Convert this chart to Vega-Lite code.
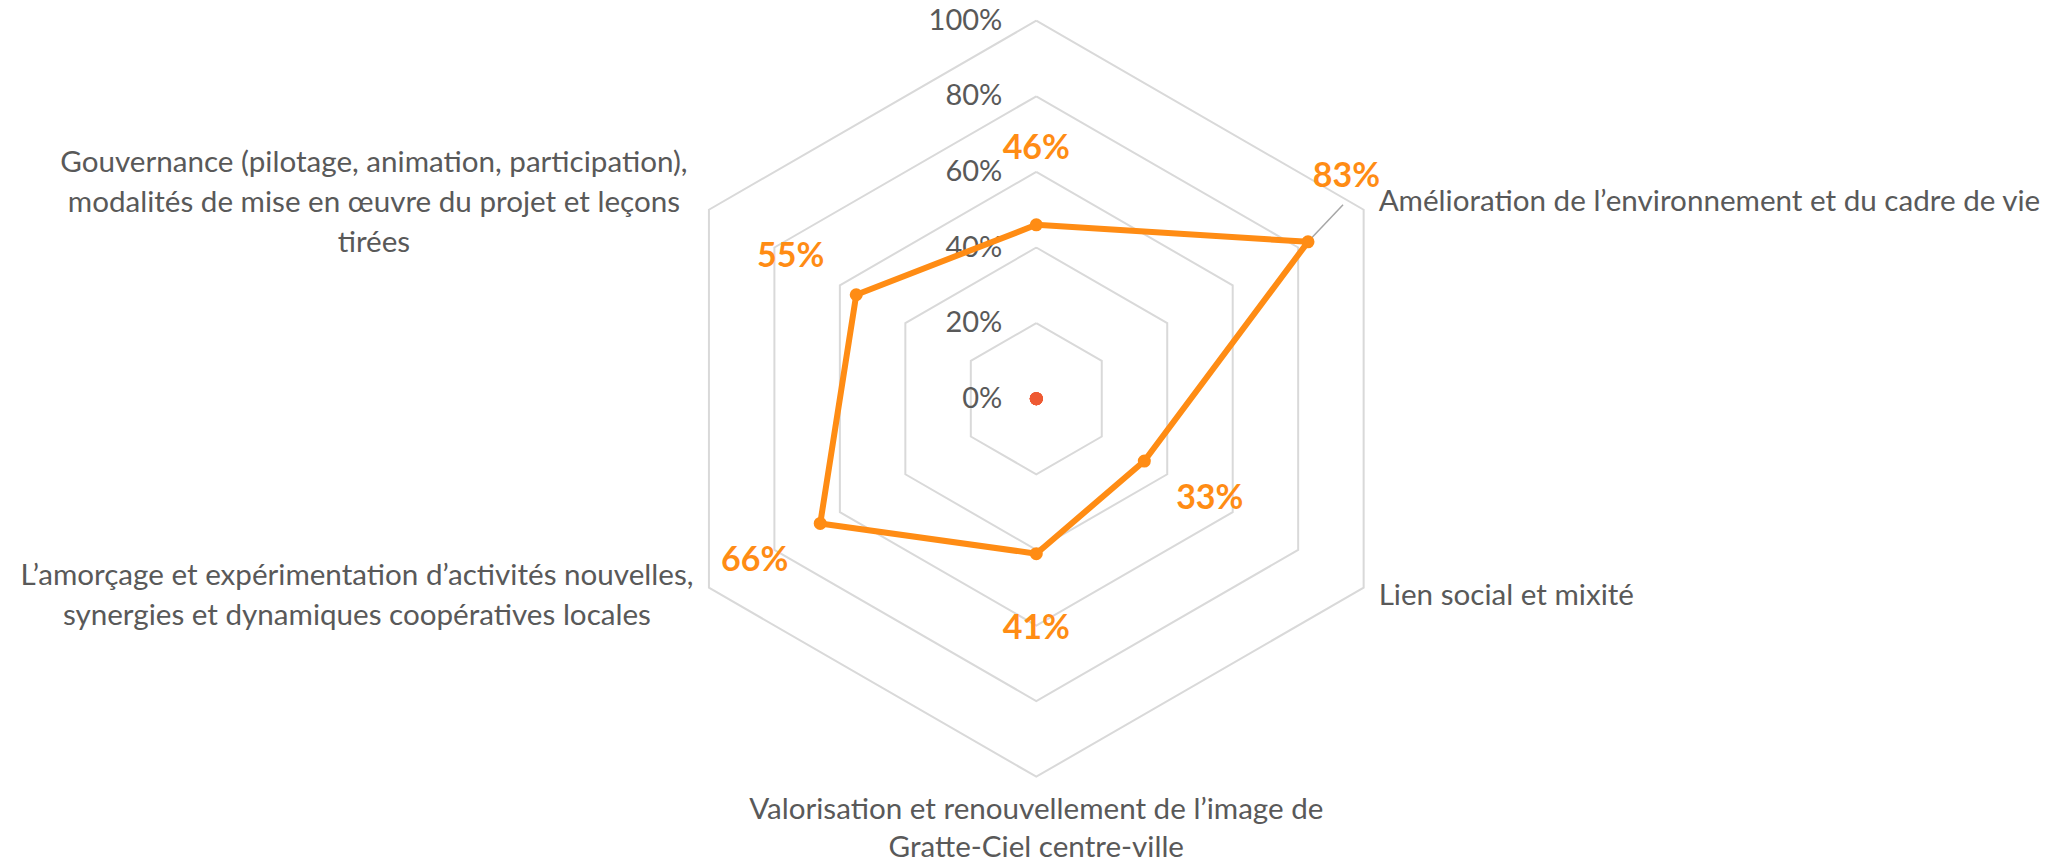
{
  "$schema": "https://vega.github.io/schema/vega-lite/v6.json",
  "width": 2066,
  "height": 864,
  "autosize": "none",
  "padding": 0,
  "background": "white",
  "config": {"view": {"stroke": null}},
  "datasets": {
    "main": [
      {"cat": "", "idx": 0, "value": 0.46},
      {"cat": "Amélioration de l’environnement et du cadre de vie", "idx": 1, "value": 0.83},
      {"cat": "Lien social et mixité", "idx": 2, "value": 0.33},
      {"cat": "Valorisation et renouvellement de l’image de\nGratte-Ciel centre-ville", "idx": 3, "value": 0.41},
      {"cat": "L’amorçage et expérimentation d’activités nouvelles,\nsynergies et dynamiques coopératives locales", "idx": 4, "value": 0.66},
      {"cat": "Gouvernance (pilotage, animation, participation),\nmodalités de mise en œuvre du projet et leçons\ntirées", "idx": 5, "value": 0.55}
    ],
    "zero": [
      {"idx": 0, "value": 0}, {"idx": 1, "value": 0}, {"idx": 2, "value": 0},
      {"idx": 3, "value": 0}, {"idx": 4, "value": 0}, {"idx": 5, "value": 0}
    ],
    "grid": [
      {"level": 0.2, "k": [0, 1, 2, 3, 4, 5, 6]},
      {"level": 0.4, "k": [0, 1, 2, 3, 4, 5, 6]},
      {"level": 0.6, "k": [0, 1, 2, 3, 4, 5, 6]},
      {"level": 0.8, "k": [0, 1, 2, 3, 4, 5, 6]},
      {"level": 1.0, "k": [0, 1, 2, 3, 4, 5, 6]}
    ],
    "ticks": [{"t": 0}, {"t": 0.2}, {"t": 0.4}, {"t": 0.6}, {"t": 0.8}, {"t": 1.0}]
  },
  "layer": [
    {
      "data": {"name": "grid"},
      "transform": [
        {"flatten": ["k"]},
        {"calculate": "datum.level*sin(datum.k*PI/3)", "as": "px"},
        {"calculate": "datum.level*cos(datum.k*PI/3)", "as": "py"}
      ],
      "mark": {"type": "line", "stroke": "#D9D9D9", "strokeWidth": 2},
      "encoding": {
        "x": {"field": "px", "type": "quantitative", "scale": {"domain": [-2.7415, 2.7241], "nice": false, "zero": false}, "axis": null},
        "y": {"field": "py", "type": "quantitative", "scale": {"domain": [-1.231, 1.0548], "nice": false, "zero": false}, "axis": null},
        "detail": {"field": "level", "type": "nominal"},
        "order": {"field": "k", "type": "quantitative"}
      }
    },
    {
      "data": {"name": "ticks"},
      "transform": [{"calculate": "0", "as": "px"}],
      "mark": {"type": "text", "align": "right", "baseline": "middle", "dx": -34, "font": "Lato", "fontSize": 29, "fill": "#595959"},
      "encoding": {
        "x": {"field": "px", "type": "quantitative"},
        "y": {"field": "t", "type": "quantitative"},
        "text": {"field": "t", "type": "quantitative", "format": ".0%"}
      }
    },
    {
      "data": {"name": "main"},
      "transform": [
        {"filter": "datum.idx == 1"},
        {"calculate": "datum.value*sin(datum.idx*PI/3)", "as": "px"},
        {"calculate": "datum.value*cos(datum.idx*PI/3)", "as": "py"},
        {"calculate": "(datum.value+0.13)*sin(datum.idx*PI/3 - 0.04)", "as": "px2"},
        {"calculate": "(datum.value+0.13)*cos(datum.idx*PI/3 - 0.04)", "as": "py2"}
      ],
      "mark": {"type": "rule", "stroke": "#A6A6A6", "strokeWidth": 1.5},
      "encoding": {
        "x": {"field": "px", "type": "quantitative"},
        "y": {"field": "py", "type": "quantitative"},
        "x2": {"field": "px2"},
        "y2": {"field": "py2"}
      }
    },
    {
      "data": {"name": "main"},
      "transform": [
        {"calculate": "datum.idx == 0 ? [0, 6] : [datum.idx]", "as": "k"},
        {"flatten": ["k"]},
        {"calculate": "datum.value*sin(datum.k*PI/3)", "as": "px"},
        {"calculate": "datum.value*cos(datum.k*PI/3)", "as": "py"}
      ],
      "mark": {"type": "line", "stroke": "#FF8C14", "strokeWidth": 6, "strokeJoin": "round", "strokeCap": "round"},
      "encoding": {
        "x": {"field": "px", "type": "quantitative"},
        "y": {"field": "py", "type": "quantitative"},
        "order": {"field": "k", "type": "quantitative"}
      }
    },
    {
      "data": {"name": "main"},
      "transform": [
        {"calculate": "datum.value*sin(datum.idx*PI/3)", "as": "px"},
        {"calculate": "datum.value*cos(datum.idx*PI/3)", "as": "py"}
      ],
      "mark": {"type": "point", "filled": true, "fill": "#FF8C14", "size": 170, "opacity": 1},
      "encoding": {
        "x": {"field": "px", "type": "quantitative"},
        "y": {"field": "py", "type": "quantitative"}
      }
    },
    {
      "data": {"name": "zero"},
      "transform": [
        {"calculate": "datum.value*sin(datum.idx*PI/3)", "as": "px"},
        {"calculate": "datum.value*cos(datum.idx*PI/3)", "as": "py"}
      ],
      "mark": {"type": "point", "filled": true, "fill": "#EE5A33", "size": 170, "opacity": 1},
      "encoding": {
        "x": {"field": "px", "type": "quantitative"},
        "y": {"field": "py", "type": "quantitative"}
      }
    },
    {
      "data": {"name": "main"},
      "transform": [
        {"filter": "datum.idx != 1"},
        {"calculate": "(datum.value+0.2)*sin(datum.idx*PI/3)", "as": "px"},
        {"calculate": "(datum.value+0.2)*cos(datum.idx*PI/3)", "as": "py"}
      ],
      "mark": {"type": "text", "align": "center", "baseline": "middle", "font": "Lato", "fontSize": 34, "fontWeight": "bold", "fill": "#FF8C14"},
      "encoding": {
        "x": {"field": "px", "type": "quantitative"},
        "y": {"field": "py", "type": "quantitative"},
        "text": {"field": "value", "type": "quantitative", "format": ".0%"}
      }
    },
    {
      "data": {"name": "main"},
      "transform": [
        {"filter": "datum.idx == 1"},
        {"calculate": "(datum.value+0.2)*sin(datum.idx*PI/3)", "as": "px"},
        {"calculate": "(datum.value+0.2)*cos(datum.idx*PI/3)", "as": "py"}
      ],
      "mark": {"type": "text", "align": "center", "baseline": "middle", "dx": -27, "dy": -27, "font": "Lato", "fontSize": 34, "fontWeight": "bold", "fill": "#FF8C14"},
      "encoding": {
        "x": {"field": "px", "type": "quantitative"},
        "y": {"field": "py", "type": "quantitative"},
        "text": {"field": "value", "type": "quantitative", "format": ".0%"}
      }
    },
    {
      "data": {"name": "main"},
      "transform": [
        {"filter": "datum.idx == 1"},
        {"calculate": "sin(datum.idx*PI/3)", "as": "px"},
        {"calculate": "cos(datum.idx*PI/3)", "as": "py"}
      ],
      "mark": {"type": "text", "align": "left", "baseline": "middle", "dx": 15, "dy": -8, "font": "Lato", "fontSize": 29.6, "fill": "#595959"},
      "encoding": {
        "x": {"field": "px", "type": "quantitative"},
        "y": {"field": "py", "type": "quantitative"},
        "text": {"field": "cat", "type": "nominal"}
      }
    },
    {
      "data": {"name": "main"},
      "transform": [
        {"filter": "datum.idx == 2"},
        {"calculate": "sin(datum.idx*PI/3)", "as": "px"},
        {"calculate": "cos(datum.idx*PI/3)", "as": "py"}
      ],
      "mark": {"type": "text", "align": "left", "baseline": "middle", "dx": 15, "dy": 8, "font": "Lato", "fontSize": 29.6, "fill": "#595959"},
      "encoding": {
        "x": {"field": "px", "type": "quantitative"},
        "y": {"field": "py", "type": "quantitative"},
        "text": {"field": "cat", "type": "nominal"}
      }
    },
    {
      "data": {"name": "main"},
      "transform": [
        {"filter": "datum.idx == 3"},
        {"calculate": "sin(datum.idx*PI/3)", "as": "px"},
        {"calculate": "cos(datum.idx*PI/3)", "as": "py"}
      ],
      "mark": {"type": "text", "align": "center", "baseline": "middle", "dy": 33, "font": "Lato", "fontSize": 29.6, "fill": "#595959", "lineBreak": "\n", "lineHeight": 38},
      "encoding": {
        "x": {"field": "px", "type": "quantitative"},
        "y": {"field": "py", "type": "quantitative"},
        "text": {"field": "cat", "type": "nominal"}
      }
    },
    {
      "data": {"name": "main"},
      "transform": [
        {"filter": "datum.idx == 4"},
        {"calculate": "sin(datum.idx*PI/3)", "as": "px"},
        {"calculate": "cos(datum.idx*PI/3)", "as": "py"}
      ],
      "mark": {"type": "text", "align": "center", "baseline": "middle", "dx": -352, "dy": -12, "font": "Lato", "fontSize": 29.6, "fill": "#595959", "lineBreak": "\n", "lineHeight": 40},
      "encoding": {
        "x": {"field": "px", "type": "quantitative"},
        "y": {"field": "py", "type": "quantitative"},
        "text": {"field": "cat", "type": "nominal"}
      }
    },
    {
      "data": {"name": "main"},
      "transform": [
        {"filter": "datum.idx == 5"},
        {"calculate": "sin(datum.idx*PI/3)", "as": "px"},
        {"calculate": "cos(datum.idx*PI/3)", "as": "py"}
      ],
      "mark": {"type": "text", "align": "center", "baseline": "middle", "dx": -335, "dy": -47, "font": "Lato", "fontSize": 29.6, "fill": "#595959", "lineBreak": "\n", "lineHeight": 40},
      "encoding": {
        "x": {"field": "px", "type": "quantitative"},
        "y": {"field": "py", "type": "quantitative"},
        "text": {"field": "cat", "type": "nominal"}
      }
    }
  ]
}
